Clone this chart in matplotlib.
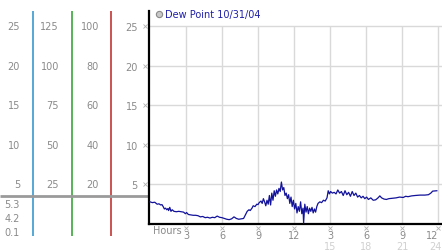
# Dew point chart, 24 hours.

import matplotlib
matplotlib.use("Agg")
from matplotlib import pyplot as plt
from matplotlib.lines import Line2D
from matplotlib.transforms import blended_transform_factory

# readings (hour, dew point)
hours = [
    0.0, 0.2, 0.4, 0.6, 0.75, 0.9, 1.0, 1.1, 1.2, 1.3, 1.4, 1.5, 1.55, 1.65,
    1.75, 1.85, 2.0, 2.2, 2.4, 2.6, 2.8, 2.95, 3.05, 3.2, 3.4, 3.6, 3.8, 4.0,
    4.2, 4.4, 4.6, 4.8, 5.0, 5.2, 5.4, 5.6, 5.8, 6.0, 6.2, 6.4, 6.6, 6.8, 7.0,
    7.2, 7.4, 7.6, 7.8, 8.0, 8.1, 8.25, 8.35, 8.5, 8.6, 8.75, 8.9, 9.0, 9.1,
    9.25, 9.35, 9.45, 9.55, 9.65, 9.75, 9.85, 9.95, 10.05, 10.15, 10.25,
    10.35, 10.45, 10.55, 10.65, 10.75, 10.85, 10.95, 11.05, 11.15, 11.25,
    11.35, 11.45, 11.55, 11.65, 11.75, 11.85, 11.95, 12.05, 12.15, 12.25,
    12.35, 12.45, 12.55, 12.65, 12.75, 12.8, 12.9, 13.0, 13.1, 13.2, 13.3,
    13.4, 13.5, 13.6, 13.7, 13.8, 13.9, 14.0, 14.15, 14.3, 14.45, 14.6,
    14.75, 14.85, 14.95, 15.05, 15.2, 15.35, 15.5, 15.65, 15.8, 15.95, 16.1,
    16.25, 16.4, 16.55, 16.7, 16.85, 17.0, 17.15, 17.3, 17.45, 17.6, 17.75,
    17.9, 18.05, 18.2, 18.4, 18.6, 18.8, 19.0, 19.15, 19.3, 19.5, 19.7, 19.9,
    20.2, 20.5, 20.8, 21.1, 21.3, 21.5, 21.8, 22.1, 22.5, 22.9, 23.2, 23.4,
    23.55, 23.9,
]
dew = [
    2.8, 2.7, 2.75, 2.5, 2.55, 2.4, 2.45, 2.2, 1.9, 2.0, 1.8, 1.95, 1.7, 2.1,
    1.6, 1.8, 1.6, 1.55, 1.6, 1.55, 1.5, 1.3, 1.45, 1.2, 1.15, 1.1, 1.1, 1.05,
    0.9, 0.95, 0.8, 0.85, 0.75, 0.85, 0.8, 1.0, 0.85, 0.8, 0.7, 0.6, 0.55,
    0.65, 0.9, 0.7, 0.6, 0.65, 0.7, 1.3, 1.6, 1.8, 1.7, 2.0, 2.3, 2.2, 2.5,
    2.45, 2.7, 2.9, 2.6, 3.2, 2.8, 2.3, 3.0, 2.5, 3.6, 2.4, 3.9, 3.0, 4.2,
    3.5, 4.3, 3.8, 4.5, 4.1, 5.3, 4.3, 4.6, 3.6, 3.9, 3.2, 3.7, 2.6, 3.4,
    2.2, 3.0, 1.9, 2.6, 1.4, 2.2, 1.6, 2.8, 1.3, 2.0, 0.1, 2.5, 1.5, 2.2,
    1.3, 2.0, 1.6, 2.1, 1.4, 1.9, 1.5, 2.2, 2.6, 2.8, 2.7, 3.0, 2.9, 3.3,
    4.2, 3.8, 4.1, 3.9, 4.0, 3.8, 4.3, 3.9, 4.1, 3.6, 4.2, 3.7, 4.0, 3.5,
    4.1, 3.6, 3.9, 3.4, 3.6, 3.3, 3.5, 3.2, 3.4, 3.1, 3.3, 3.0, 3.05, 3.3,
    3.55, 3.3, 3.15, 3.1, 3.2, 3.25, 3.3, 3.4, 3.35, 3.5, 3.45, 3.55, 3.6,
    3.65, 3.65, 3.7, 3.9, 4.15, 4.2,
]

grid_vals = [5, 10, 15, 20, 25]
scale_1 = ["5", "10", "15", "20", "25"]
scale_2 = ["25", "50", "75", "100", "125"]
scale_3 = ["20", "40", "60", "80", "100"]
scale_4 = ["5", "10", "15", "20", "25"]
readings = ["5.3", "4.2", "0.1"]

hour_ticks = [3, 6, 9, 12, 15, 18, 21, 24]
hour_labels = ["3", "6", "9", "12", "3", "6", "9", "12"]
day_ticks = [15, 18, 21, 24]
day_labels = ["15", "18", "21", "24"]

W, H = 442, 253
GRAY = "#8a8a8a"
FS = 7

fig = plt.figure(figsize=(W / 100, H / 100), dpi=100)

# background panel in pixel units
bg = fig.add_axes([0, 0, 1, 1])
bg.set_xlim(0, W)
bg.set_ylim(H, 0)
bg.axis("off")

ax = fig.add_axes([149 / W, 28 / H, (W - 149) / W, (241 - 28) / H])
ax.set_xlim(-0.08, 24.33)
ax.set_ylim(0, 26.9)
ax.patch.set_alpha(0)

for v in grid_vals:
    ax.axhline(v, color="#d9d9d9", lw=1, zorder=0)
ax.vlines(hour_ticks, 0, 25, color="#d9d9d9", lw=1, zorder=0)

ax.plot(hours, dew, color="#12129a", lw=0.9, zorder=3)

for s in ["top", "right"]:
    ax.spines[s].set_visible(False)
ax.spines["left"].set_linewidth(1.6)
ax.spines["bottom"].set_linewidth(1.6)

ax.set_yticks(grid_vals)
ax.set_yticklabels(scale_4, color=GRAY, fontsize=FS)
ax.tick_params(axis="y", length=0, pad=8)
ax.set_xticks(hour_ticks)
ax.set_xticklabels(hour_labels, color=GRAY, fontsize=FS)
ax.tick_params(axis="x", length=0, pad=4.5)
# last label sits against the right edge
ax.get_xticklabels()[-1].set_ha("right")
ax.get_xticklabels()[-1].set_x(24.3)

# little tick glyphs
ty = blended_transform_factory(bg.transData, ax.transData)
tx = blended_transform_factory(ax.transData, bg.transData)
bg.plot([145] * len(grid_vals), grid_vals, "x", ms=2.2, mew=0.6,
        color="#b0b0b0", transform=ty, clip_on=False)
bg.plot(hour_ticks, [229] * len(hour_ticks), "x", ms=2.2, mew=0.6,
        color="#b0b0b0", transform=tx, clip_on=False)

for t, lab in zip(day_ticks, day_labels):
    last = t == day_ticks[-1]
    bg.text(24.3 if last else t, 247.5, lab, transform=tx,
            ha="right" if last else "center", va="center",
            fontsize=FS, color="#d0d0d0")
bg.text(0.25, 231, "Hours", transform=tx, ha="left", va="center",
        fontsize=FS, color=GRAY)

# left scales
for labels, xr in [(scale_1, 20), (scale_2, 59), (scale_3, 99)]:
    for v, lab in zip(grid_vals, labels):
        bg.text(xr, v, lab, transform=ty, ha="right", va="center",
                fontsize=FS, color=GRAY)
for yp, lab in zip([205, 219, 233], readings):
    bg.text(20, yp, lab, ha="right", va="center", fontsize=FS, color=GRAY)

bg.vlines([33], 12, 237, color="#3a9ad0", lw=1.2)
bg.vlines([72], 12, 237, color="#3aa53a", lw=1.2)
bg.vlines([111], 12, 237, color="#c03535", lw=1.2)
bg.hlines(197, 0, 149, color="#9a9a9a", lw=2, zorder=2)

# legend
handle = Line2D([], [], marker="o", ls="none", ms=4.5, mfc="#c8c8c8",
                mec="#8a8a8a", mew=0.8)
ax.legend([handle], ["Dew Point 10/31/04"], loc="upper left",
          bbox_to_anchor=(0.0, 1.04), frameon=False, fontsize=FS,
          handlelength=0.6, handletextpad=0.3, borderaxespad=0.3,
          labelcolor="#1f1fa8")

fig.savefig("out.png", dpi=100)
